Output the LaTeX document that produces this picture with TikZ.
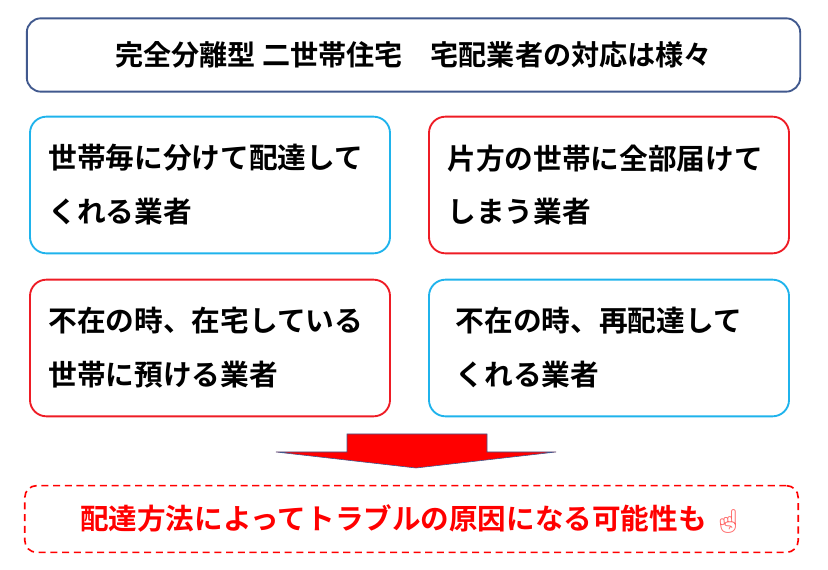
\documentclass[tikz,border=0pt]{standalone}
\usepackage{fontspec}
\usepackage{xcolor}
\setmainfont{Noto Sans CJK JP}[BoldFont={Noto Sans CJK JP Bold}]
\newfontfamily\emojifont{Noto Emoji}
\usetikzlibrary{positioning}
\definecolor{titleblue}{HTML}{41598E}
\definecolor{boxcyan}{HTML}{1FB3EC}
\definecolor{boxred}{HTML}{EE1C25}
\tikzset{
  card/.style={draw,line width=1.6pt,rounded corners=14pt,minimum width=10.8cm,minimum height=4.1cm,
    align=left,font=\fontsize{24.5}{46}\selectfont\bfseries,text width=9.7cm},
  cyancard/.style={card,draw=boxcyan},
  redcard/.style={card,draw=boxred}
}
\begin{document}
\begin{tikzpicture}[x=0.03cm,y=-0.03cm]
\useasboundingbox (0,0) rectangle (828,570);

\node [draw=titleblue,line width=1.6pt,rounded corners=12pt,minimum width=23.2cm,minimum height=2.2cm,
  font=\fontsize{24}{28}\selectfont\bfseries] (title) at (413.5,55) {完全分離型 二世帯住宅　宅配業者の対応は様々};

\node [cyancard] (each) at (210,185) {世帯毎に分けて配達して\\くれる業者};
\node [redcard] (oneside) at (609,185) {片方の世帯に全部届けて\\しまう業者};
\node [redcard] (absent) at (210,348) {不在の時、在宅している\\世帯に預ける業者};
\node [cyancard,text width=9.2cm] (redeliver) at (609,348) {不在の時、再配達して\\くれる業者};

% arrow
\coordinate (arrtip) at (416,468);
\draw [fill=red,draw=titleblue,line width=0.5pt]
  (347,434) -- (487,434) -- (487,452) -- (556,452) -- (arrtip) -- (276,452) -- (347,452) -- cycle;

\node [draw=red,dash pattern=on 6pt off 4pt,line width=1.4pt,rounded corners=10pt,minimum width=23.2cm,minimum height=2.0cm,
  text=red,font=\fontsize{24.4}{28}\selectfont\bfseries] (trouble) at (411.5,519)
  {配達方法によってトラブルの原因になる可能性も {\color{red!60}\emojifont\fontsize{20}{22}\selectfont ☝}};
\end{tikzpicture}
\end{document}
